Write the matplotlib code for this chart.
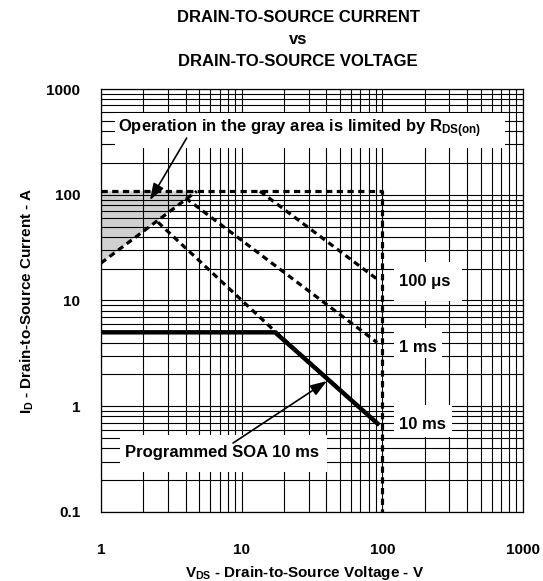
import matplotlib
matplotlib.use("Agg")
import matplotlib.pyplot as plt
from matplotlib.patches import Rectangle
from matplotlib.ticker import LogLocator, NullFormatter, FixedLocator

plt.rcParams['font.family'] = ['Liberation Sans', 'DejaVu Sans']
plt.rcParams['font.weight'] = 'bold'
plt.rcParams['mathtext.fontset'] = 'custom'
plt.rcParams['mathtext.rm'] = 'Liberation Sans:bold'
plt.rcParams['mathtext.it'] = 'Liberation Sans:bold'
plt.rcParams['mathtext.bf'] = 'Liberation Sans:bold'
plt.rcParams['lines.scale_dashes'] = False

# --- data (V, A) ---
dc_v = [1, 100, 100]
dc_i = [108, 108, 0.1]

rds_v = [1, 4.8]
rds_i = [22.6, 108]

gray_v = [1, 4.8, 1]
gray_i = [22.6, 108, 108]

t100us_v = [13.5, 95]
t100us_i = [108, 15.4]

t1ms_v = [4, 92]
t1ms_i = [93, 4.0]

t10ms_v = [2.54, 17.3, 95]
t10ms_i = [55, 5.1, 0.665]

soa_v = [1, 17.3, 95]
soa_i = [5, 5, 0.665]

xticks = [1, 10, 100, 1000]
xticklabels = ['1', '10', '100', '1000']
yticks = [0.1, 1, 10, 100, 1000]
yticklabels = ['0.1', '1', '10', '100', '1000']

fig = plt.figure(figsize=(5.43, 5.81), dpi=100)
ax = fig.add_axes([0.186, 0.1188, 0.777, 0.728])
ax.set_xscale('log')
ax.set_yscale('log')
ax.set_xlim(1, 1000)
ax.set_ylim(0.1, 1000)

ax.xaxis.set_major_locator(FixedLocator(xticks))
ax.yaxis.set_major_locator(FixedLocator(yticks))
ax.set_xticklabels(xticklabels)
ax.set_yticklabels(yticklabels)
ax.xaxis.set_minor_locator(LogLocator(base=10, subs=range(2, 10)))
ax.yaxis.set_minor_locator(LogLocator(base=10, subs=range(2, 10)))
ax.xaxis.set_minor_formatter(NullFormatter())
ax.yaxis.set_minor_formatter(NullFormatter())
ax.tick_params(which='both', length=0)
ax.tick_params(axis='x', pad=22, labelsize=11)
ax.tick_params(axis='y', pad=15, labelsize=11)

ax.set_axisbelow(True)
ax.grid(which='both', color='black', linewidth=0.8)
for s in ax.spines.values():
    s.set_linewidth(0.9)

# gray Rds(on) region
ax.fill(gray_v, gray_i, color='#d0d0d0', zorder=0.3, linewidth=0)

dash = (0, (4.5, 3.2))
ax.plot(dc_v, dc_i, color='black', lw=2.3, linestyle=dash, zorder=3)
ax.plot(rds_v, rds_i, color='black', lw=2.3, linestyle=dash, zorder=3)
ax.plot(t100us_v, t100us_i, color='black', lw=2.3, linestyle=dash, zorder=3)
ax.plot(t1ms_v, t1ms_i, color='black', lw=2.3, linestyle=dash, zorder=3)
ax.plot(t10ms_v, t10ms_i, color='black', lw=2.3, linestyle=dash, zorder=3)
ax.plot(soa_v, soa_i, color='black', lw=3.2, solid_capstyle='butt', zorder=4)

# white label boxes
def box(x0, y0, x1, y1):
    ax.add_patch(Rectangle((x0, y0), x1 - x0, y1 - y0, transform=ax.transAxes,
                           facecolor='white', edgecolor='none', zorder=1))

box(0.033, 0.861, 0.957, 0.943)
box(0.045, 0.095, 0.536, 0.182)
box(0.694, 0.499, 0.855, 0.591)
box(0.694, 0.364, 0.808, 0.435)
box(0.694, 0.177, 0.832, 0.253)

lbl = dict(transform=ax.transAxes, fontsize=12, fontweight='bold', va='center', ha='left', zorder=5)
ax.text(0.04, 0.907, r'Operation in the gray area is limited by $R_{DS(on)}$', **lbl)
ax.text(0.057, 0.140, 'Programmed SOA 10 ms', **lbl)
ax.text(0.706, 0.544, '100 μs', **lbl)
ax.text(0.706, 0.388, '1 ms', **lbl)
ax.text(0.706, 0.206, '10 ms', **lbl)

arrow = dict(arrowstyle='-|>,head_length=1.0,head_width=0.35', color='black', lw=1.2,
             shrinkA=0, shrinkB=0)
ax.annotate('', xy=(2.23, 89), xycoords='data', xytext=(0.203, 0.884),
            textcoords='axes fraction', arrowprops=arrow, zorder=6)
ax.annotate('', xy=(40.4, 1.73), xycoords='data', xytext=(0.313, 0.163),
            textcoords='axes fraction', arrowprops=arrow, zorder=6)

ax.set_xlabel(r'$V_{DS}$ - Drain-to-Source Voltage - V', fontsize=11, fontweight='bold')
ax.xaxis.set_label_coords(0.483, -0.122)
ax.set_ylabel(r'$I_D$ - Drain-to-Source Current - A', fontsize=11, fontweight='bold')
ax.yaxis.set_label_coords(-0.155, 0.5)

fig.text(0.549, 0.982, 'DRAIN-TO-SOURCE CURRENT\nvs\nDRAIN-TO-SOURCE VOLTAGE',
         ha='center', va='top', fontsize=12, fontweight='bold', linespacing=1.55)

fig.savefig('out.png', dpi=100)
